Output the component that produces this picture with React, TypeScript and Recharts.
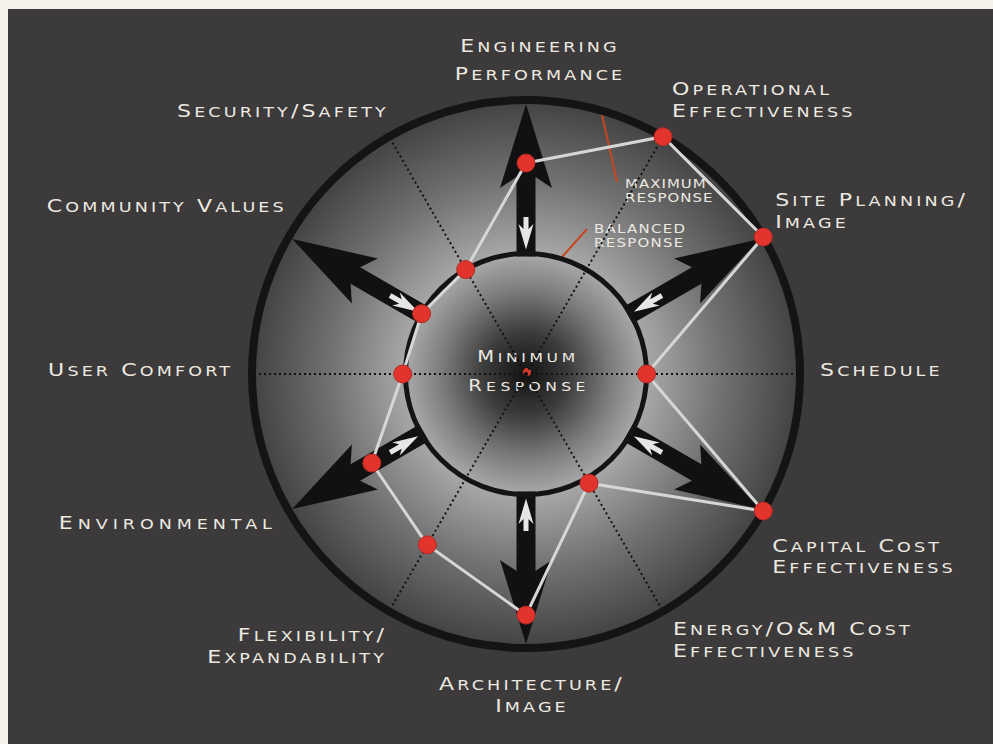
import React from "react";
import {
  RadarChart,
  Radar,
  PolarGrid,
  PolarAngleAxis,
  PolarRadiusAxis,
} from "recharts";

// data (0 = minimum response at the centre, 100 = maximum at the outer ring)
const criteria = [
  "Engineering|Performance",
  "Operational|Effectiveness",
  "Site Planning/|Image",
  "Schedule",
  "Capital Cost|Effectiveness",
  "Energy/O&M Cost|Effectiveness",
  "Architecture/|Image",
  "Flexibility/|Expandability",
  "Environmental",
  "User Comfort",
  "Community Values",
  "Security/Safety",
];
const response = [77, 100, 100, 44, 100, 46, 88, 72, 65, 45, 44, 44];
const balancedResponse = 44;

const chartData = criteria.map((c, i) => ({ criterion: c, value: response[i] }));

const W = 993;
const H = 744;
const CX = 526;
const CY = 374;
const R_OUT = 274;
const R_IN = (R_OUT * balancedResponse) / 100;

const TEXT = "#ece9e1";
const FONT = "'DejaVu Sans', sans-serif";

// every other axis carries an arrow, the rest a dotted spoke
const arrowIdx = [0, 2, 4, 6, 8, 10];
const spokeAngles = [1, 3, 5, 7, 9, 11].map((i) => 90 - 30 * i);

// label placement relative to the tick point recharts hands us
const LABEL_LAYOUT = [
  { anchor: "middle", dx: 14, dy: -40, gap: 28 },
  { anchor: "start", dx: 5, dy: -35, gap: 22 },
  { anchor: "start", dx: 5, dy: -27, gap: 22 },
  { anchor: "start", dx: 12, dy: 2, gap: 22 },
  { anchor: "start", dx: 2, dy: 37, gap: 21 },
  { anchor: "start", dx: 6, dy: 17, gap: 22 },
  { anchor: "middle", dx: 6, dy: 34, gap: 22 },
  { anchor: "end", dx: 2, dy: 23, gap: 22 },
  { anchor: "end", dx: -5, dy: 14, gap: 22, ls: 3.8 },
  { anchor: "end", dx: -11, dy: 2, gap: 22 },
  { anchor: "end", dx: 5, dy: -21, gap: 22 },
  { anchor: "start", dx: -208, dy: -13, gap: 22 },
];

// fake small caps: capitals big, lower case shown as smaller capitals
const SmallCaps = ({ text, y = 0, anchor, big, small, ls, fill = TEXT }: any) => {
  const runs: { size: number; s: string }[] = [];
  for (const ch of text) {
    const lower = ch !== ch.toUpperCase();
    const size = lower ? small : big;
    const last = runs[runs.length - 1];
    if (last && last.size === size) last.s += ch.toUpperCase();
    else runs.push({ size, s: ch.toUpperCase() });
  }
  return (
    <text x={0} y={y} textAnchor={anchor} fill={fill} fontFamily={FONT} letterSpacing={ls}>
      {runs.map((r, i) => (
        <tspan key={i} fontSize={r.size}>
          {r.s}
        </tspan>
      ))}
    </text>
  );
};

const LabelTick = (props: any) => {
  const { x, y, payload, index } = props;
  const lay: any = LABEL_LAYOUT[index] || LABEL_LAYOUT[0];
  const lines = String(payload.value).split("|");
  return (
    <g transform={`translate(${x + lay.dx},${y + lay.dy}) scale(1.3,1)`}>
      {lines.map((ln, k) => (
        <SmallCaps key={k} text={ln} y={k * lay.gap} anchor={lay.anchor} big={17} small={13.5} ls={lay.ls ?? 2.4} />
      ))}
    </g>
  );
};

const toXY = (deg: number, r: number, w: number) => {
  const a = (deg * Math.PI) / 180;
  return [CX + r * Math.cos(a) + w * Math.sin(a), CY - r * Math.sin(a) + w * Math.cos(a)];
};
const poly = (deg: number, pts: number[][]) =>
  pts.map(([r, w]) => toXY(deg, r, w).map((v) => v.toFixed(1)).join(",")).join(" ");

const BLACK_ARROW = [
  [R_IN - 3, -9.5],
  [197, -9.5],
  [186, -26],
  [270, 0],
  [186, 26],
  [197, 9.5],
  [R_IN - 3, 9.5],
];
const WHITE_HEAD = [
  [R_IN + 4, 0],
  [150, -7.5],
  [145, -2.5],
  [157, -2.5],
  [157, 2.5],
  [145, 2.5],
  [150, 7.5],
];

const Backdrop = () => (
  <svg width={W} height={H} style={{ position: "absolute", left: 0, top: 0 }}>
    <defs>
      <radialGradient id="outerGrad" gradientUnits="userSpaceOnUse" cx={CX} cy={CY} r={R_OUT}>
        <stop offset={0.44} stopColor="#a8a8a8" />
        <stop offset={0.72} stopColor="#707070" />
        <stop offset={1} stopColor="#424242" />
      </radialGradient>
      <radialGradient id="innerGrad" gradientUnits="userSpaceOnUse" cx={CX} cy={CY} r={R_IN}>
        <stop offset={0} stopColor="#121212" />
        <stop offset={0.35} stopColor="#3c3c3c" />
        <stop offset={0.7} stopColor="#7c7c7c" />
        <stop offset={1} stopColor="#a9a9a9" />
      </radialGradient>
    </defs>
    <rect x={0} y={0} width={W} height={H} fill="#f5f2ec" />
    <rect x={8} y={9} width={W - 8} height={H - 9} fill="#3c3a3a" />
    <circle cx={CX} cy={CY} r={R_OUT} fill="url(#outerGrad)" />
    <circle cx={CX} cy={CY} r={R_IN} fill="url(#innerGrad)" />

    {arrowIdx.map((i) => {
      const deg = 90 - 30 * i;
      return (
        <g key={i}>
          <polygon points={poly(deg, BLACK_ARROW)} fill="#111" />
          <polygon points={poly(deg, WHITE_HEAD)} fill="#e6e6e6" />
        </g>
      );
    })}

    <g transform={`translate(528,362) scale(1.3,1)`}>
      <SmallCaps text="Minimum" anchor="middle" big={15} small={12} ls={2.8} />
    </g>
    <g transform={`translate(529,391) scale(1.3,1)`}>
      <SmallCaps text="Response" anchor="middle" big={15} small={12} ls={3.4} />
    </g>
    <circle cx={CX + 1} cy={CY - 2} r={4} fill="#d63a2c" />

    <line x1={602} y1={115} x2={617} y2={182} stroke="#c8461f" strokeWidth={2} />
    <line x1={587} y1={229} x2={562} y2={257} stroke="#c8461f" strokeWidth={2} />
    <g transform="translate(625,188) scale(1.3,1)" fill={TEXT} fontFamily={FONT} fontSize={11.5} letterSpacing={0.8}>
      <text x={0} y={0}>MAXIMUM</text>
      <text x={0} y={14}>RESPONSE</text>
    </g>
    <g transform="translate(594,233) scale(1.3,1)" fill={TEXT} fontFamily={FONT} fontSize={11.5} letterSpacing={1}>
      <text x={0} y={0}>BALANCED</text>
      <text x={0} y={14}>RESPONSE</text>
    </g>
  </svg>
);

export default function App() {
  return (
    <div style={{ position: "relative", width: W, height: H, overflow: "hidden" }}>
      <style>{"body{margin:0;background:#f5f2ec}"}</style>
      <Backdrop />
      <div style={{ position: "absolute", left: 0, top: 0 }}>
        <RadarChart
          width={W}
          height={H}
          data={chartData}
          cx={CX}
          cy={CY}
          outerRadius={R_OUT}
          margin={{ top: 0, right: 0, bottom: 0, left: 0 }}
        >
          <PolarGrid gridType="circle" polarAngles={spokeAngles} polarRadius={[]} stroke="#111" strokeWidth={2} strokeDasharray="2 3" />
          <PolarGrid gridType="circle" radialLines={false} polarAngles={[]} polarRadius={[R_IN]} stroke="#141414" strokeWidth={5} />
          <PolarGrid gridType="circle" radialLines={false} polarAngles={[]} polarRadius={[R_OUT]} stroke="#141414" strokeWidth={8} />
          <PolarRadiusAxis domain={[0, 100]} tick={false} axisLine={false} />
          <PolarAngleAxis
            dataKey="criterion"
            tick={(p: any) => <LabelTick {...p} />}
            tickLine={false}
            axisLine={false}
          />
          <Radar
            dataKey="value"
            stroke="#d6d6d6"
            strokeWidth={3}
            fill="none"
            fillOpacity={0}
            dot={{ r: 9, fill: "#e2342c", stroke: "#b02a22", strokeWidth: 1, fillOpacity: 1 }}
            isAnimationActive={false}
          />
        </RadarChart>
      </div>
    </div>
  );
}
